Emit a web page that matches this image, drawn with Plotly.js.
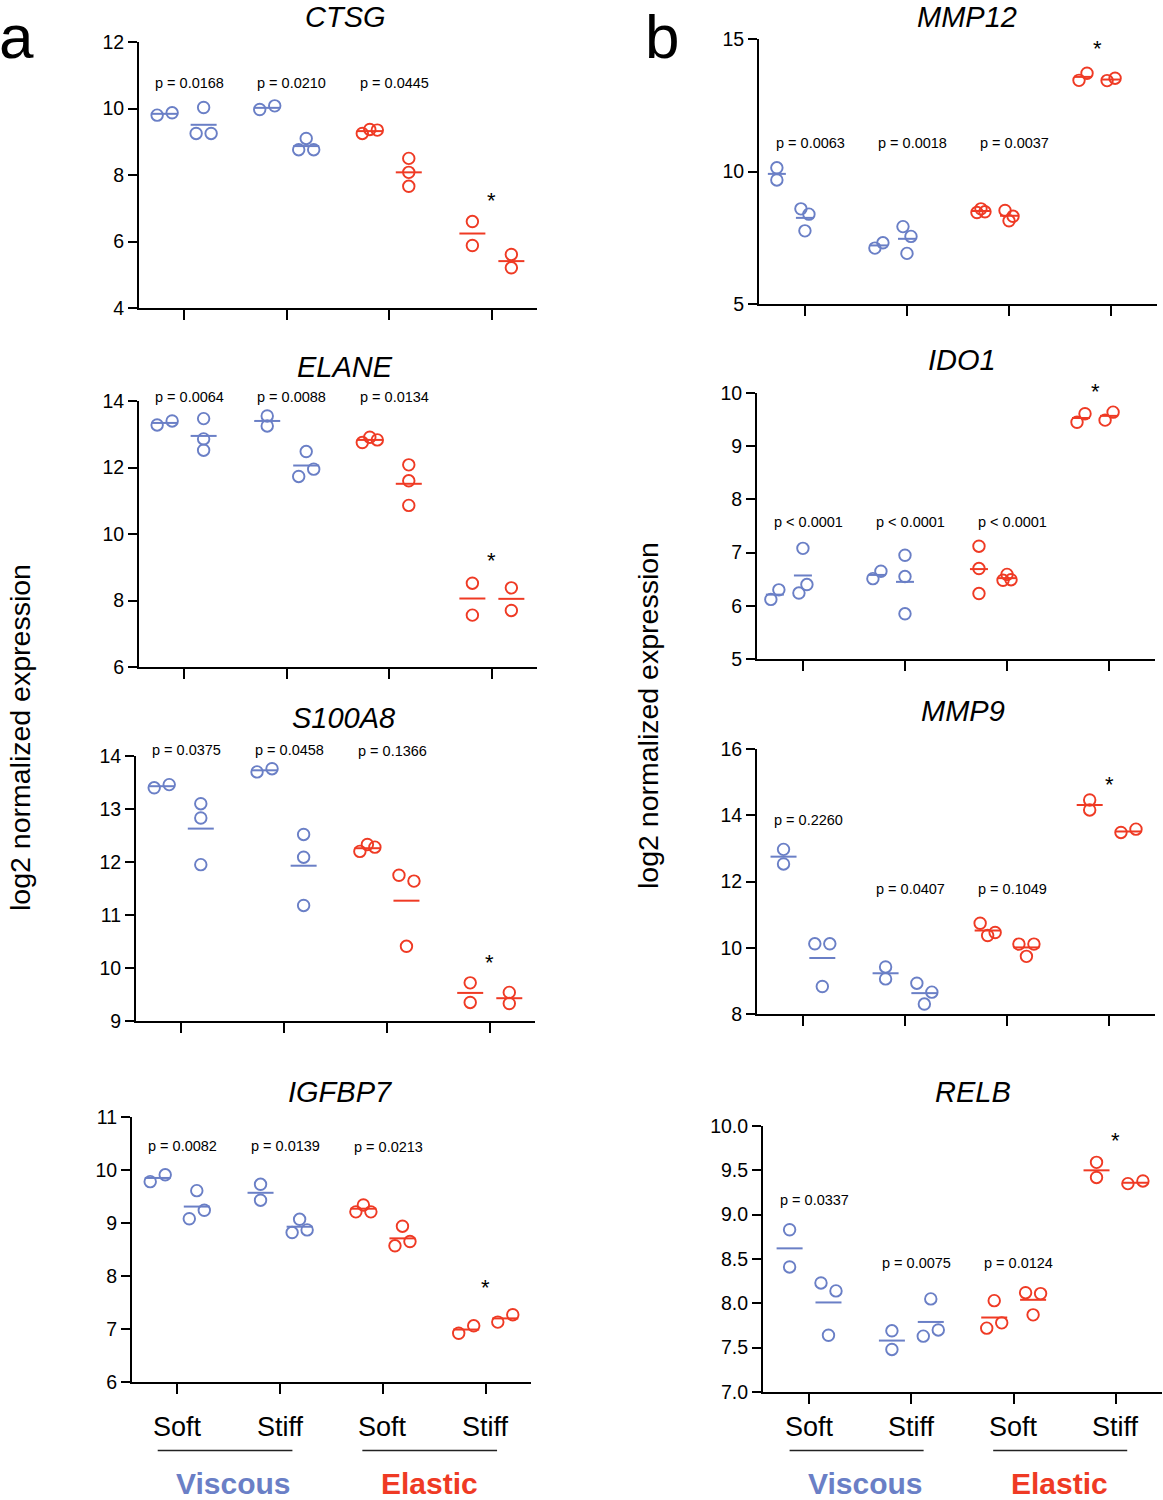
<!DOCTYPE html>
<html><head><meta charset="utf-8">
<script src="https://cdn.plot.ly/plotly-3.0.1.min.js"></script>
<style>html,body{margin:0;padding:0;background:#fff}#chart{width:1163px;height:1500px}</style>
</head><body><div id="chart"></div>
<script>
// ---------------- DATA ----------------
const groupNames = ['Viscous Soft', 'Viscous Stiff', 'Elastic Soft', 'Elastic Stiff'];
const stiffnessLabels = ['Soft', 'Stiff', 'Soft', 'Stiff'];
const materialLabels = ['Viscous', 'Elastic'];
const yAxisTitle = 'log2 normalized expression';
const panelLetters = ['a', 'b'];

// each gene: first sub-group (a) and second sub-group (b) for the 4 conditions
const CTSG_a = [[9.80, 9.87], [9.97, 10.08], [9.25, 9.37, 9.35], [6.60, 5.88]];
const CTSG_b = [[10.03, 9.25, 9.25], [9.10, 8.76, 8.76], [8.50, 8.08, 7.66], [5.61, 5.21]];
const CTSG_meanA = [9.84, 10.02, 9.32, 6.24];
const CTSG_meanB = [9.51, 8.87, 8.08, 5.41];
const CTSG_p = ['p = 0.0168', 'p = 0.0210', 'p = 0.0445'];
const CTSG_pY = [10.78, 10.78, 10.78];
const CTSG_starY = 7.37;

const ELANE_a = [[13.28, 13.40], [13.25, 13.55], [12.75, 12.91, 12.83], [8.52, 7.56]];
const ELANE_b = [[13.47, 12.86, 12.52], [12.48, 11.73, 11.95], [12.08, 11.60, 10.86], [8.38, 7.70]];
const ELANE_meanA = [13.34, 13.40, 12.83, 8.06];
const ELANE_meanB = [12.95, 12.06, 11.51, 8.05];
const ELANE_p = ['p = 0.0064', 'p = 0.0088', 'p = 0.0134'];
const ELANE_pY = [14.13, 14.13, 14.13];
const ELANE_starY = 9.34;

const S100A8_a = [[13.40, 13.46], [13.70, 13.76], [12.20, 12.33, 12.28], [9.72, 9.35]];
const S100A8_b = [[13.10, 12.83, 11.95], [12.52, 12.09, 11.18], [11.75, 11.64, 10.41], [9.54, 9.33]];
const S100A8_meanA = [13.43, 13.73, 12.26, 9.53];
const S100A8_meanB = [12.63, 11.93, 11.27, 9.43];
const S100A8_p = ['p = 0.0375', 'p = 0.0458', 'p = 0.1366'];
const S100A8_pY = [14.11, 14.11, 14.10];
const S100A8_starY = 10.19;

const IGFBP7_a = [[9.78, 9.91], [9.73, 9.43], [9.21, 9.34, 9.21], [6.92, 7.06]];
const IGFBP7_b = [[9.61, 9.08, 9.24], [9.07, 8.82, 8.87], [8.94, 8.57, 8.65], [7.13, 7.27]];
const IGFBP7_meanA = [9.85, 9.57, 9.27, 6.99];
const IGFBP7_meanB = [9.31, 8.93, 8.71, 7.20];
const IGFBP7_p = ['p = 0.0082', 'p = 0.0139', 'p = 0.0213'];
const IGFBP7_pY = [10.45, 10.45, 10.44];
const IGFBP7_starY = 7.88;

const MMP12_a = [[10.14, 9.68], [7.11, 7.31], [8.45, 8.59, 8.48], [13.44, 13.71]];
const MMP12_b = [[8.59, 8.39, 7.76], [7.92, 7.55, 6.91], [8.53, 8.14, 8.31], [13.43, 13.52]];
const MMP12_meanA = [9.91, 7.21, 8.51, 13.57];
const MMP12_meanB = [8.25, 7.46, 8.33, 13.47];
const MMP12_p = ['p = 0.0063', 'p = 0.0018', 'p = 0.0037'];
const MMP12_pY = [11.06, 11.06, 11.06];
const MMP12_starY = 14.82;

const IDO1_a = [[6.12, 6.30], [6.51, 6.65], [7.12, 6.70, 6.23], [9.45, 9.61]];
const IDO1_b = [[7.08, 6.24, 6.40], [6.95, 6.55, 5.85], [6.48, 6.59, 6.49], [9.49, 9.64]];
const IDO1_meanA = [6.21, 6.58, 6.69, 9.53];
const IDO1_meanB = [6.57, 6.45, 6.52, 9.57];
const IDO1_p = ['p < 0.0001', 'p < 0.0001', 'p < 0.0001'];
const IDO1_pY = [7.57, 7.57, 7.57];
const IDO1_starY = 10.13;

const MMP9_a = [[12.97, 12.53], [9.42, 9.06], [10.74, 10.46, 10.37], [14.46, 14.16]];
const MMP9_b = [[10.12, 10.12, 8.83], [8.93, 8.66, 8.30], [10.11, 10.11, 9.74], [13.48, 13.58]];
const MMP9_meanA = [12.75, 9.23, 10.52, 14.31];
const MMP9_meanB = [9.69, 8.63, 10.01, 13.51];
const MMP9_p = ['p = 0.2260', 'p = 0.0407', 'p = 0.1049'];
const MMP9_pY = [13.86, 11.78, 11.78];
const MMP9_starY = 15.07;

const RELB_a = [[8.83, 8.41], [7.69, 7.48], [8.03, 7.72, 7.78], [9.59, 9.42]];
const RELB_b = [[8.23, 8.14, 7.64], [8.05, 7.63, 7.70], [8.12, 8.11, 7.87], [9.35, 9.38]];
const RELB_meanA = [8.62, 7.58, 7.84, 9.50];
const RELB_meanB = [8.01, 7.79, 8.04, 9.36];
const RELB_p = ['p = 0.0337', 'p = 0.0075', 'p = 0.0124'];
const RELB_pY = [9.16, 8.46, 8.46];
const RELB_starY = 9.89;

const DATA = {
  CTSG:   {a: CTSG_a, b: CTSG_b, mA: CTSG_meanA, mB: CTSG_meanB, p: CTSG_p, pY: CTSG_pY, star: CTSG_starY},
  ELANE:  {a: ELANE_a, b: ELANE_b, mA: ELANE_meanA, mB: ELANE_meanB, p: ELANE_p, pY: ELANE_pY, star: ELANE_starY},
  S100A8: {a: S100A8_a, b: S100A8_b, mA: S100A8_meanA, mB: S100A8_meanB, p: S100A8_p, pY: S100A8_pY, star: S100A8_starY},
  IGFBP7: {a: IGFBP7_a, b: IGFBP7_b, mA: IGFBP7_meanA, mB: IGFBP7_meanB, p: IGFBP7_p, pY: IGFBP7_pY, star: IGFBP7_starY},
  MMP12:  {a: MMP12_a, b: MMP12_b, mA: MMP12_meanA, mB: MMP12_meanB, p: MMP12_p, pY: MMP12_pY, star: MMP12_starY},
  IDO1:   {a: IDO1_a, b: IDO1_b, mA: IDO1_meanA, mB: IDO1_meanB, p: IDO1_p, pY: IDO1_pY, star: IDO1_starY},
  MMP9:   {a: MMP9_a, b: MMP9_b, mA: MMP9_meanA, mB: MMP9_meanB, p: MMP9_p, pY: MMP9_pY, star: MMP9_starY},
  RELB:   {a: RELB_a, b: RELB_b, mA: RELB_meanA, mB: RELB_meanB, p: RELB_p, pY: RELB_pY, star: RELB_starY}
};

// ---------------- LAYOUT / STYLE ----------------
const W = 1163, H = 1500;
const BLUE = '#6A7FC6', RED = '#EF3A24';
const FONT = 'Liberation Sans, Arial, Helvetica, sans-serif';
const ROW_THR = 9.9; // px: points closer than this vertically share a row

const PANELS = [
  {gene: 'CTSG',   px: [139, 537], py: [42, 308],    yr: [4, 12],  dtick: 2,   xr: [0.56, 4.44], offs: [-0.19, 0.19], span: 15, meanLen: 26, title: [345, 17]},
  {gene: 'ELANE',  px: [139, 537], py: [401, 667],   yr: [6, 14],  dtick: 2,   xr: [0.56, 4.44], offs: [-0.19, 0.19], span: 15, meanLen: 26, title: [345, 367]},
  {gene: 'S100A8', px: [136, 535], py: [756, 1021],  yr: [9, 14],  dtick: 1,   xr: [0.56, 4.44], offs: [-0.19, 0.19], span: 15, meanLen: 26, title: [343, 718]},
  {gene: 'IGFBP7', px: [132, 531], py: [1117, 1382], yr: [6, 11],  dtick: 1,   xr: [0.56, 4.44], offs: [-0.19, 0.19], span: 15, meanLen: 26, title: [340, 1092], bottom: true},
  {gene: 'MMP12',  px: [759, 1157], py: [39, 304],   yr: [5, 15],  dtick: 5,   xr: [0.55, 4.45], offs: [-0.275, 0], span: 8, meanLen: 18, title: [967, 17]},
  {gene: 'IDO1',   px: [757, 1155], py: [393, 659],  yr: [5, 10],  dtick: 1,   xr: [0.55, 4.45], offs: [-0.275, 0], span: 8, meanLen: 18, title: [962, 360]},
  {gene: 'MMP9',   px: [757, 1155], py: [749, 1014], yr: [8, 16],  dtick: 2,   xr: [0.55, 4.45], offs: [-0.19, 0.19], span: 15, meanLen: 26, title: [963, 711]},
  {gene: 'RELB',   px: [763, 1162], py: [1126, 1392], yr: [7, 10], dtick: 0.5, xr: [0.55, 4.45], offs: [-0.19, 0.19], span: 15, meanLen: 26, title: [973, 1092], bottom: true, fmt: '.1f'}
];

const pxX = v => v / W;
const pxY = v => 1 - v / H;

// horizontal spreading of points of one cluster (returns offsets in px)
function spread(vals, pxPerY, span) {
  const idx = vals.map((v, i) => i).sort((a, b) => vals[b] - vals[a]);
  const rows = [];
  let cur = null;
  idx.forEach(i => {
    if (cur && (vals[cur[0]] - vals[i]) * pxPerY < ROW_THR) cur.push(i);
    else { cur = [i]; rows.push(cur); }
  });
  const off = vals.map(() => 0);
  rows.forEach(r => {
    r.sort((a, b) => a - b);
    const n = r.length;
    if (n > 1) r.forEach((i, k) => { off[i] = -span / 2 + k * span / (n - 1); });
  });
  return off;
}

const traces = [];
const annotations = [];
const shapes = [];
const layout = {
  width: W, height: H,
  margin: {l: 0, r: 0, t: 0, b: 0},
  paper_bgcolor: '#fff', plot_bgcolor: 'rgba(0,0,0,0)',
  showlegend: false,
  font: {family: FONT, color: '#000'}
};

PANELS.forEach((P, pi) => {
  const n = pi + 1;
  const xa = 'x' + n, ya = 'y' + n;
  const D = DATA[P.gene];
  const ppx = (P.px[1] - P.px[0]) / (P.xr[1] - P.xr[0]);
  const ppy = (P.py[1] - P.py[0]) / (P.yr[1] - P.yr[0]);
  const yFrac = v => (v - P.yr[0]) / (P.yr[1] - P.yr[0]);

  layout['xaxis' + n] = {
    domain: [pxX(P.px[0]), pxX(P.px[1])], range: P.xr, anchor: ya,
    showline: true, linewidth: 2, linecolor: '#000', mirror: false,
    ticks: 'outside', ticklen: 10, tickwidth: 2, tickcolor: '#000',
    tickmode: 'array', tickvals: [1, 2, 3, 4], showticklabels: false,
    showgrid: false, zeroline: false, fixedrange: true
  };
  layout['yaxis' + n] = {
    domain: [pxY(P.py[1]), pxY(P.py[0])], range: P.yr, anchor: xa,
    showline: true, linewidth: 2, linecolor: '#000',
    ticks: 'outside', ticklen: 9, tickwidth: 2, tickcolor: '#000',
    tick0: P.yr[0], dtick: P.dtick, tickformat: P.fmt || '',
    tickfont: {family: FONT, size: 19.5, color: '#000'},
    showgrid: false, zeroline: false, fixedrange: true
  };

  [[0, 1, BLUE], [2, 3, RED]].forEach(([g0, g1, col]) => {
    const mx = [], my = [], lx = [], ly = [];
    [g0, g1].forEach(g => {
      [[D.a[g], D.mA[g], P.offs[0]], [D.b[g], D.mB[g], P.offs[1]]].forEach(([vals, mean, off]) => {
        const c = g + 1 + off;
        const jit = spread(vals, ppy, P.span);
        vals.forEach((v, i) => { mx.push(c + jit[i] / ppx); my.push(v); });
        const half = P.meanLen / 2 / ppx;
        lx.push(c - half, c + half, null);
        ly.push(mean, mean, null);
      });
    });
    traces.push({
      type: 'scatter', mode: 'lines', x: lx, y: ly, xaxis: xa, yaxis: ya,
      line: {color: col, width: 2}, hoverinfo: 'skip', cliponaxis: false
    });
    traces.push({
      type: 'scatter', mode: 'markers', x: mx, y: my, xaxis: xa, yaxis: ya,
      marker: {symbol: 'circle-open', size: 11.5, color: col, line: {width: 1.9, color: col}},
      cliponaxis: false, hoverinfo: 'y'
    });
  });

  // p-values
  D.p.forEach((t, g) => {
    annotations.push({xref: xa, yref: ya + ' domain', x: g + 1 + 0.05, y: yFrac(D.pY[g]), text: t, showarrow: false,
      xanchor: 'center', yanchor: 'middle', font: {family: FONT, size: 14.5, color: '#000'}});
  });
  // star
  annotations.push({xref: xa, yref: ya + ' domain', x: 4 + (P.offs[0] + P.offs[1]) / 2, y: yFrac(D.star), text: '*', showarrow: false,
    xanchor: 'center', yanchor: 'middle', yshift: -5, font: {family: FONT, size: 22, color: '#000'}});
  // title
  annotations.push({xref: 'paper', yref: 'paper', x: pxX(P.title[0]), y: pxY(P.title[1]), text: '<i>' + P.gene + '</i>',
    showarrow: false, xanchor: 'center', yanchor: 'middle', font: {family: FONT, size: 29, color: '#000'}});

  if (P.bottom) {
    stiffnessLabels.forEach((t, g) => {
      annotations.push({xref: xa, yref: 'paper', x: g + 1, y: pxY(1427), text: t, showarrow: false,
        xanchor: 'center', yanchor: 'middle', font: {family: FONT, size: 27, color: '#000'}});
    });
    [[0.81, 2.12, materialLabels[0], BLUE, 1.55], [2.8, 4.11, materialLabels[1], RED, 3.45]].forEach(([a, b, t, col, cx]) => {
      shapes.push({type: 'line', xref: xa, yref: 'paper', x0: a, x1: b, y0: pxY(1450.5), y1: pxY(1450.5),
        line: {color: '#222', width: 1.6}});
      annotations.push({xref: xa, yref: 'paper', x: cx, y: pxY(1483), text: '<b>' + t + '</b>', showarrow: false,
        xanchor: 'center', yanchor: 'middle', font: {family: FONT, size: 30, color: col}});
    });
  }
});

// y-axis titles
[[20, 738], [648, 716]].forEach(([x, y]) => {
  annotations.push({xref: 'paper', yref: 'paper', x: pxX(x), y: pxY(y), text: yAxisTitle, textangle: -90,
    showarrow: false, xanchor: 'center', yanchor: 'middle', font: {family: FONT, size: 28.5, color: '#000'}});
});
// panel letters
[[16, 37], [662, 37]].forEach(([x, y], i) => {
  annotations.push({xref: 'paper', yref: 'paper', x: pxX(x), y: pxY(y), text: panelLetters[i],
    showarrow: false, xanchor: 'center', yanchor: 'middle', borderpad: 0,
    font: {family: FONT, size: 62, color: '#000'}});
});

layout.annotations = annotations;
layout.shapes = shapes;

Plotly.newPlot('chart', traces, layout, {staticPlot: true, displayModeBar: false});
</script>
</body></html>
